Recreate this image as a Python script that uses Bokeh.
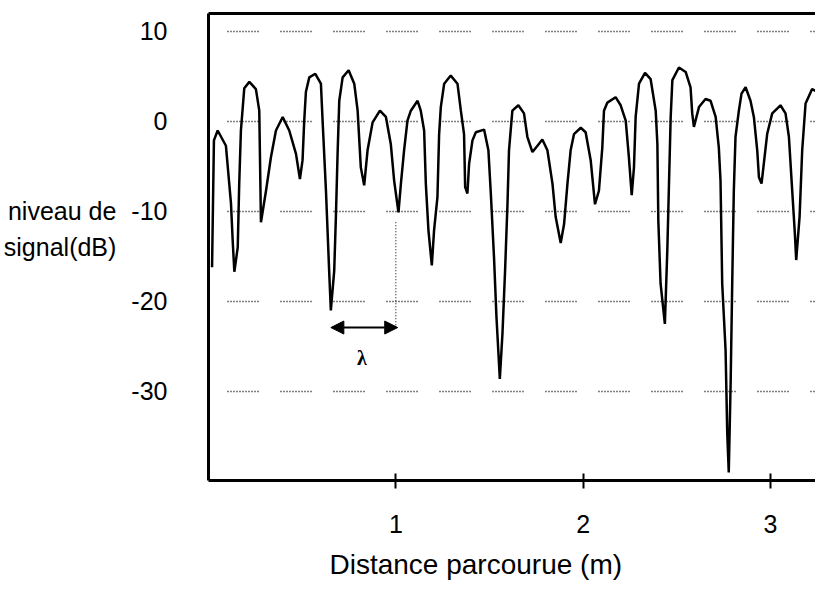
from bokeh.plotting import figure
from bokeh.models import (FixedTicker, LinearAxis, Label, Arrow, NormalHead, Range1d,
                          Grid, PrintfTickFormatter, Title)
from bokeh.embed import file_html
from bokeh.resources import INLINE

# Measured signal level along the path
distance_m = [0.019, 0.029, 0.049, 0.093, 0.120, 0.129, 0.138, 0.156, 0.164, 0.173,
              0.191, 0.218, 0.253, 0.271, 0.280, 0.307, 0.333, 0.360, 0.396, 0.431,
              0.467, 0.488, 0.502, 0.511, 0.520, 0.538, 0.570, 0.600, 0.609, 0.627,
              0.644, 0.653, 0.671, 0.680, 0.689, 0.698, 0.716, 0.748, 0.778, 0.796,
              0.813, 0.831, 0.849, 0.876, 0.915, 0.947, 0.973, 0.991, 1.014, 1.027,
              1.044, 1.062, 1.080, 1.116, 1.133, 1.151, 1.160, 1.174, 1.192, 1.204,
              1.222, 1.231, 1.240, 1.258, 1.293, 1.329, 1.347, 1.364, 1.370, 1.382,
              1.391, 1.409, 1.427, 1.471, 1.494, 1.507, 1.524, 1.537, 1.555, 1.569,
              1.583, 1.596, 1.604, 1.622, 1.654, 1.684, 1.702, 1.729, 1.756, 1.782,
              1.809, 1.836, 1.853, 1.880, 1.898, 1.916, 1.933, 1.951, 1.987, 2.013,
              2.040, 2.063, 2.084, 2.102, 2.111, 2.129, 2.173, 2.200, 2.227, 2.244,
              2.259, 2.271, 2.280, 2.298, 2.330, 2.360, 2.387, 2.396, 2.401, 2.413,
              2.436, 2.449, 2.458, 2.467, 2.476, 2.511, 2.547, 2.573, 2.582, 2.591,
              2.618, 2.653, 2.680, 2.707, 2.724, 2.733, 2.742, 2.760, 2.769, 2.777,
              2.787, 2.796, 2.804, 2.813, 2.831, 2.845, 2.867, 2.893, 2.911, 2.929,
              2.938, 2.952, 2.964, 2.982, 3.009, 3.053, 3.080, 3.098, 3.119, 3.130,
              3.137, 3.155, 3.169, 3.187, 3.222, 3.240]
level_db = [-16.2, -2.1, -1.0, -2.7, -9.1, -13.2, -16.7, -14.0, -6.9, -1.0,
            3.7, 4.4, 3.6, 1.2, -11.2, -7.7, -4.0, -1.0, 0.5, -1.0,
            -3.6, -6.4, -4.3, 0.1, 3.3, 4.9, 5.3, 4.2, 0.1, -7.7,
            -16.6, -21.0, -16.6, -10.6, -3.6, 2.3, 4.9, 5.7, 4.2, 1.2,
            -5.1, -7.1, -3.2, -0.1, 1.2, 0.5, -2.5, -6.6, -10.1, -6.9,
            -3.2, 0.1, 1.2, 2.3, 1.2, -1.0, -6.9, -12.1, -16.0, -12.1,
            -8.4, -1.4, 1.6, 4.2, 5.1, 4.2, 1.2, -1.4, -7.3, -8.0,
            -4.7, -2.1, -1.2, -0.9, -3.2, -8.0, -15.1, -21.7, -28.6, -23.6,
            -16.6, -9.1, -3.2, 1.2, 1.8, 0.9, -1.7, -3.4, -2.7, -2.0,
            -3.2, -6.9, -10.6, -13.5, -11.4, -6.9, -3.2, -1.4, -0.7, -1.2,
            -4.3, -9.2, -7.7, -2.9, 1.2, 2.1, 2.7, 1.8, 0.1, -4.0,
            -8.2, -5.1, 0.5, 4.2, 5.4, 4.7, 1.2, -2.5, -11.0, -18.0,
            -22.5, -14.3, -6.9, 0.5, 4.6, 6.0, 5.5, 3.8, 0.9, -0.6,
            1.6, 2.5, 2.3, 0.5, -2.9, -6.6, -18.0, -25.4, -34.7, -39.0,
            -29.1, -17.3, -7.7, -1.7, 1.2, 3.1, 3.8, 2.3, 0.5, -3.2,
            -6.2, -6.9, -4.7, -1.4, 0.9, 1.8, 0.9, -1.7, -8.8, -12.5,
            -15.4, -10.6, -3.2, 2.0, 3.6, 3.4]

x_ticks = [1, 2, 3]
y_ticks = [10, 0, -10, -20, -30]

# lambda annotation (one wavelength between a fade and the 1 m mark)
lambda_start_m = 0.653
lambda_end_m = 1.01
lambda_level_db = -22.9
marker_x_m = [1.0, 1.0]
marker_db = [-11.2, -23.0]

FONT = "Liberation Sans"

p = figure(width=815, height=592, output_backend="svg", toolbar_location=None,
           x_range=Range1d(0, 3.24), y_range=Range1d(-39.9, 12.0),
           min_border_left=208, min_border_right=0, min_border_top=13,
           min_border_bottom=112, x_axis_location=None, y_axis_location=None)
p.outline_line_color = None
p.background_fill_color = "white"
p.border_fill_color = "white"
for g in p.grid:
    g.visible = False

grid_dash = "1 2 " * 10 + "1 22"
p.add_layout(Grid(dimension=1, ticker=FixedTicker(ticks=y_ticks),
                  grid_line_color="black", grid_line_width=1.3,
                  grid_line_dash=grid_dash, grid_line_dash_offset=34))

yaxis = LinearAxis(ticker=FixedTicker(ticks=y_ticks),
                   formatter=PrintfTickFormatter(format="%d"),
                   axis_line_width=3, axis_line_color="black",
                   major_tick_line_color=None, minor_tick_line_color=None,
                   major_tick_out=0, major_tick_in=0,
                   major_label_standoff=41, major_label_text_font=FONT,
                   major_label_text_font_size="25px", major_label_text_color="black",
                   axis_label="niveau de\nsignal(dB)\n ", axis_label_orientation="horizontal",
                   axis_label_standoff=12, axis_label_text_font=FONT,
                   axis_label_text_font_size="25px", axis_label_text_font_style="normal",
                   axis_label_text_color="black", axis_label_text_line_height=1.3,
                   axis_label_text_align="left")
p.add_layout(yaxis, "left")

xaxis = LinearAxis(ticker=FixedTicker(ticks=x_ticks),
                   formatter=PrintfTickFormatter(format="%d"),
                   axis_line_width=3, axis_line_color="black",
                   major_tick_line_color="black", major_tick_line_width=2,
                   major_tick_in=7, major_tick_out=8, minor_tick_line_color=None,
                   major_label_standoff=26, major_label_text_font=FONT,
                   major_label_text_font_size="25px", major_label_text_color="black")
p.add_layout(xaxis, "below")

p.add_layout(Title(text="Distance parcourue (m)", align="left", offset=121,
                   standoff=22, text_font=FONT, text_font_size="28px",
                   text_font_style="normal", text_color="black"), "below")

topaxis = LinearAxis(ticker=FixedTicker(ticks=[]), axis_line_width=3,
                     axis_line_color="black", major_tick_out=0, major_tick_in=0,
                     major_label_standoff=0, major_label_text_font_size="0px",
                     minor_tick_line_color=None)
p.add_layout(topaxis, "above")

p.line(distance_m, level_db, line_color="black", line_width=2.5)

p.line(marker_x_m, marker_db, line_color="black", line_width=1, line_dash="1 2")
p.add_layout(Arrow(x_start=lambda_start_m, y_start=lambda_level_db,
                   x_end=lambda_end_m, y_end=lambda_level_db,
                   line_color="black", line_width=2,
                   start=NormalHead(size=13, fill_color="black", line_color="black"),
                   end=NormalHead(size=13, fill_color="black", line_color="black")))
p.add_layout(Label(x=0.819, y=-26.3, text="λ", text_font="Liberation Serif",
                   text_font_style="bold", text_font_size="20px",
                   text_align="center", text_baseline="middle", text_color="black"))

open("out.html", "w").write(file_html(p, INLINE))
